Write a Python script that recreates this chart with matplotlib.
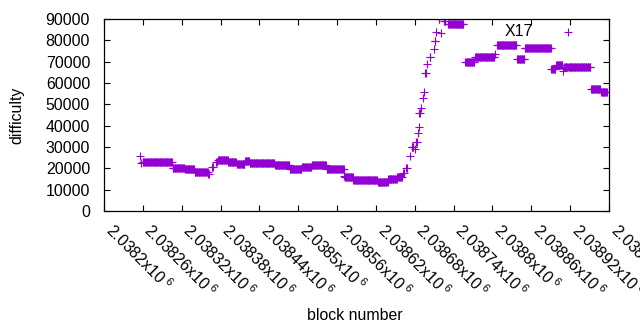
import matplotlib
matplotlib.use("Agg")
import matplotlib.pyplot as plt
import numpy as np

plt.rcParams['font.family'] = ['Liberation Sans', 'DejaVu Sans']
plt.rcParams['mathtext.default'] = 'regular'

run_first = [2038256, 2038257, 2038260, 2038306, 2038325, 2038340, 2038361, 2038367,
             2038373, 2038376, 2038392, 2038405, 2038418, 2038425, 2038464, 2038487,
             2038506, 2038521, 2038544, 2038571, 2038572, 2038585, 2038623, 2038639,
             2038653, 2038662, 2038667, 2038673, 2038675, 2038680, 2038682, 2038685,
             2038686, 2038687, 2038690, 2038692, 2038694, 2038696, 2038699, 2038703,
             2038709, 2038711, 2038713, 2038717, 2038721, 2038725, 2038731, 2038758,
             2038773, 2038804, 2038807, 2038838, 2038850, 2038891, 2038898, 2038909,
             2038911, 2038917, 2038918, 2038952, 2038968]
run_last = [2038256, 2038257, 2038305, 2038324, 2038339, 2038360, 2038362, 2038368,
            2038374, 2038391, 2038404, 2038417, 2038424, 2038463, 2038486, 2038505,
            2038520, 2038543, 2038570, 2038571, 2038584, 2038622, 2038638, 2038652,
            2038660, 2038663, 2038668, 2038673, 2038678, 2038680, 2038683, 2038685,
            2038686, 2038688, 2038690, 2038692, 2038694, 2038697, 2038699, 2038704,
            2038709, 2038712, 2038713, 2038718, 2038721, 2038727, 2038755, 2038772,
            2038803, 2038804, 2038837, 2038849, 2038890, 2038897, 2038908, 2038909,
            2038916, 2038917, 2038951, 2038966, 2038977]
run_value = [26000, 22500, 23000, 20300, 19700, 18400, 17200, 20600,
             23000, 23900, 22800, 21900, 23400, 22700, 21400, 19500,
             20800, 21600, 19500, 16600, 16100, 14500, 13700, 15000,
             16100, 17700, 20000, 25800, 30100, 28900, 32500, 36400,
             39500, 45800, 48400, 52800, 55900, 64800, 68800, 72300,
             75800, 79800, 84000, 90000, 83600, 88900, 87500, 69700,
             72000, 73600, 77700, 71100, 76300, 66700, 68400, 65800,
             67600, 83900, 67600, 57300, 55900]

x_ticks = list(range(2038200, 2038981, 60))
note_text = "X17"
note_x, note_y = 2038840, 84000

blocks = np.concatenate([np.arange(a, b + 1) for a, b in zip(run_first, run_last)])
difficulty = np.concatenate([np.full(b - a + 1, v) for a, b, v in zip(run_first, run_last, run_value)])

fig = plt.figure(figsize=(6.4, 3.3), dpi=100)
ax = fig.add_axes([104 / 640, 1 - 211 / 330, 505 / 640, 192 / 330])

ax.plot(blocks, difficulty, linestyle='none', marker='+', markersize=5.2,
        markeredgewidth=0.8, color='#9400d3')

ax.set_xlim(2038200, 2038980)
ax.set_ylim(0, 90000)
ax.set_xticks(x_ticks)
ax.set_xticklabels(['{:.6g}x10$^{{\\ 6}}$'.format(t / 1e6) for t in x_ticks],
                   rotation=-45, ha='left', va='baseline', rotation_mode='anchor')
ax.set_yticks(range(0, 90001, 10000))
ax.tick_params(direction='in', top=True, right=True, length=4, width=0.8,
               labelsize=11.4, colors='black')
ax.tick_params(axis='y', pad=10)
ax.tick_params(axis='x', pad=15)
for s in ax.spines.values():
    s.set_linewidth(0.9)

ax.text(note_x, note_y, note_text, ha='center', va='center', fontsize=11.4)

fig.text(17 / 640, 1 - 115 / 330, 'difficulty', rotation=90, ha='center', va='center', fontsize=11.4)
fig.text(355 / 640, 1 - 316 / 330, 'block number', ha='center', va='center', fontsize=11.4)

fig.savefig('out.png', dpi=100)
